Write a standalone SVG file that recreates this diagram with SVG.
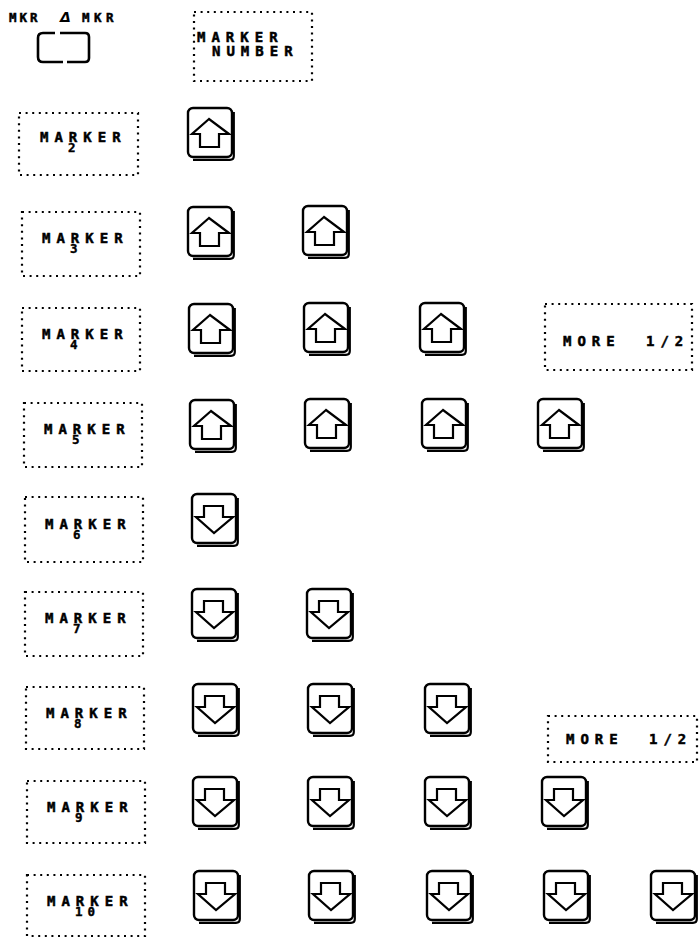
<svg xmlns="http://www.w3.org/2000/svg" width="699" height="938" viewBox="0 0 699 938">
<style>
.dot{fill:none;stroke:#000;stroke-width:2.2;stroke-dasharray:2 4.6;stroke-linecap:butt}
.t{font-family:"DejaVu Sans Mono","Liberation Mono",monospace;font-weight:bold;font-size:14px;letter-spacing:6px;fill:#000;stroke:#000;stroke-width:0.5}
.d{font-family:"DejaVu Sans Mono","Liberation Mono",monospace;font-weight:bold;font-size:12.5px;letter-spacing:0px;fill:#000;stroke:#000;stroke-width:0.4}
.ts{font-family:"DejaVu Sans Mono","Liberation Mono",monospace;font-weight:bold;font-size:12.5px;letter-spacing:3px;fill:#000;stroke:#000;stroke-width:0.5}
.k{fill:#fff;stroke:#000;stroke-width:2.4}
.sh{fill:none;stroke:#000;stroke-width:2.2}
.ar{fill:none;stroke:#000;stroke-width:2.2;stroke-linejoin:miter}
</style>
<defs>
<g id="upkey">
<rect class="k" x="1" y="1" width="44" height="49" rx="5"/>
<path class="sh" d="M46.8 5 V49 Q46.8 52.8 43 52.8 H6"/>
<polygon class="ar" points="22,12 5,27 13,27 13,40 32,40 32,27 42,27"/>
</g>
<g id="downkey">
<rect class="k" x="1" y="1" width="44" height="49" rx="5"/>
<path class="sh" d="M46.8 5 V49 Q46.8 52.8 43 52.8 H6"/>
<polygon class="ar" points="13,13 32,13 32,24 42,24 23,40 5,24 13,24"/>
</g>
</defs>

<g id="mkr-delta-mkr">
<text class="ts" x="9" y="22">MKR</text>
<text x="60" y="22" style="font-family:'DejaVu Sans',sans-serif;font-style:italic;font-weight:bold;font-size:14px;fill:#000">Δ</text>
<text class="ts" x="82" y="22" style="letter-spacing:4.5px">MKR</text>
<path d="M55 33 H43 Q38 33 38 38 V57 Q38 62 43 62 H63" fill="none" stroke="#000" stroke-width="2.6"/>
<path d="M60 33 H85 Q89 33 89 37 V58 Q89 62 85 62 H67" fill="none" stroke="#000" stroke-width="2.6"/>
</g>

<g id="marker-number">
<rect class="dot" x="194" y="12" width="118" height="69"/>
<text class="t" x="197" y="42">MARKER</text>
<text class="t" x="212" y="56">NUMBER</text>
</g>

<g id="row2">
<rect class="dot" x="19" y="113" width="119" height="62"/>
<text class="t" x="40" y="142">MARKER</text>
<text class="d" x="68" y="152">2</text>
<use href="#upkey" x="187" y="107"/>
</g>

<g id="row3">
<rect class="dot" x="22" y="212" width="118" height="64"/>
<text class="t" x="42" y="243">MARKER</text>
<text class="d" x="70" y="253">3</text>
<use href="#upkey" x="187" y="206"/>
<use href="#upkey" x="302" y="205"/>
</g>

<g id="row4">
<rect class="dot" x="22" y="308" width="118" height="63"/>
<text class="t" x="42" y="339">MARKER</text>
<text class="d" x="70" y="349">4</text>
<use href="#upkey" x="188" y="303"/>
<use href="#upkey" x="303" y="302"/>
<use href="#upkey" x="419" y="302"/>
</g>

<g id="more1">
<rect class="dot" x="545" y="304" width="147" height="66"/>
<text class="t" x="563" y="346">MORE</text>
<text class="t" x="646" y="346">1/2</text>
</g>

<g id="row5">
<rect class="dot" x="24" y="403" width="118" height="64"/>
<text class="t" x="44" y="434">MARKER</text>
<text class="d" x="72" y="444">5</text>
<use href="#upkey" x="189" y="399"/>
<use href="#upkey" x="304" y="398"/>
<use href="#upkey" x="421" y="398"/>
<use href="#upkey" x="537" y="398"/>
</g>

<g id="row6">
<rect class="dot" x="25" y="497" width="118" height="65"/>
<text class="t" x="45" y="529">MARKER</text>
<text class="d" x="73" y="539">6</text>
<use href="#downkey" x="191" y="493"/>
</g>

<g id="row7">
<rect class="dot" x="25" y="592" width="118" height="64"/>
<text class="t" x="45" y="623">MARKER</text>
<text class="d" x="73" y="633">7</text>
<use href="#downkey" x="191" y="588"/>
<use href="#downkey" x="306" y="588"/>
</g>

<g id="row8">
<rect class="dot" x="26" y="687" width="118" height="62"/>
<text class="t" x="46" y="718">MARKER</text>
<text class="d" x="74" y="728">8</text>
<use href="#downkey" x="192" y="683"/>
<use href="#downkey" x="307" y="683"/>
<use href="#downkey" x="424" y="683"/>
</g>

<g id="more2">
<rect class="dot" x="548" y="716" width="149" height="46"/>
<text class="t" x="566" y="744">MORE</text>
<text class="t" x="649" y="744">1/2</text>
</g>

<g id="row9">
<rect class="dot" x="27" y="781" width="118" height="62"/>
<text class="t" x="47" y="812">MARKER</text>
<text class="d" x="75" y="822">9</text>
<use href="#downkey" x="192" y="776"/>
<use href="#downkey" x="307" y="776"/>
<use href="#downkey" x="424" y="776"/>
<use href="#downkey" x="541" y="776"/>
</g>

<g id="row10">
<rect class="dot" x="27" y="875" width="118" height="61"/>
<text class="t" x="47" y="906">MARKER</text>
<text class="d" x="75" y="916" style="letter-spacing:5px">10</text>
<use href="#downkey" x="193" y="870"/>
<use href="#downkey" x="308" y="870"/>
<use href="#downkey" x="426" y="870"/>
<use href="#downkey" x="543" y="870"/>
<use href="#downkey" x="650" y="870"/>
</g>

<g id="connectors"></g>
</svg>
